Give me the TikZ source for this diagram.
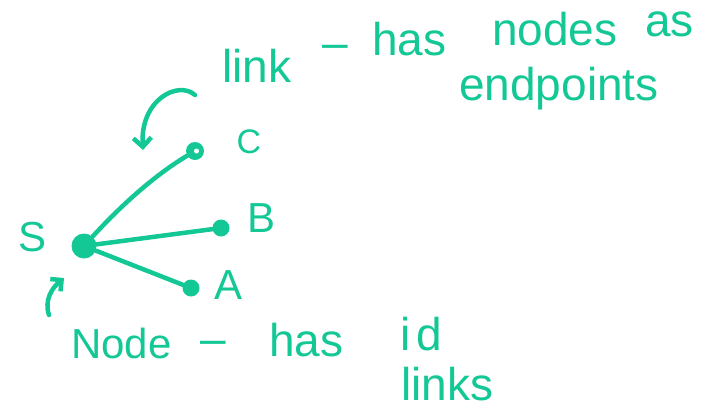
\documentclass[tikz,border=0pt]{standalone}
\usepackage{fontspec}
\setmainfont{Liberation Sans}
\usetikzlibrary{arrows.meta}
\definecolor{ink}{RGB}{20,200,150}
\tikzset{
  pen/.style={draw=ink, line width=4.5pt, line cap=round, line join=round},
  dotnode/.style={circle, fill=ink, inner sep=0pt, minimum size=#1},
  hand/.style={text=ink, inner sep=0pt, anchor=base west, font=\fontsize{46}{46}\selectfont},
  lbl/.style={text=ink, inner sep=0pt, font=\fontsize{42}{42}\selectfont},
}
\begin{document}
\begin{tikzpicture}[x=1pt,y=-1pt]
\useasboundingbox (0,0) rectangle (717,413);
% nodes
\node[dotnode=25pt] (S) at (84,246) {};
\node[dotnode=18pt] (C) at (195,151) {};
\node[dotnode=17pt] (B) at (221,228) {};
\node[dotnode=17pt] (A) at (191,288) {};
\fill[white] (C.center) ++(1.5,0) circle (2.5pt);
% labels
\node[lbl] (lS) at (33,237) {S};
\node[lbl, font=\fontsize{34}{34}\selectfont] (lC) at (249,142) {C};
\node[lbl] (lB) at (262,218) {B};
\node[lbl] (lA) at (229,285) {A};
% links
\draw[pen] (S) .. controls (115,212) and (150,178) .. (C);
\draw[pen] (S) -- (B);
\draw[pen] (S) -- (A);
% arrows
\coordinate (a1s) at (195,95);
\coordinate (a1e) at (143,150);
\draw[pen, -{Straight Barb[length=9pt,width=18pt]}] (a1s) .. controls (178,80) and (140,100) .. (a1e);
\coordinate (a2s) at (49,315);
\coordinate (a2e) at (64,278);
\draw[pen, -{Straight Barb[length=8pt,width=16pt]}] (a2s) .. controls (44,300) and (52,288) .. (a2e);
% texts
\node[hand] (t1) at (222,82) {link};
\node[hand] (t1b) at (322,58) {--};
\node[hand] (t1c) at (372,55) {has};
\node[hand] (t1d) at (492,45) {nodes};
\node[hand] (t1e) at (645,36) {as};
\node[hand] (t2) at (459,100) {endpoints};
\node[hand, font=\fontsize{42}{42}\selectfont] (t3) at (71,358) {Node};
\node[hand] (t4) at (200,354) {--};
\node[hand] (t5) at (269,356) {has};
\node[hand] (t6) at (400,350) {i\hspace{6pt}d};
\node[hand] (t7) at (401,400) {links};
\end{tikzpicture}
\end{document}
